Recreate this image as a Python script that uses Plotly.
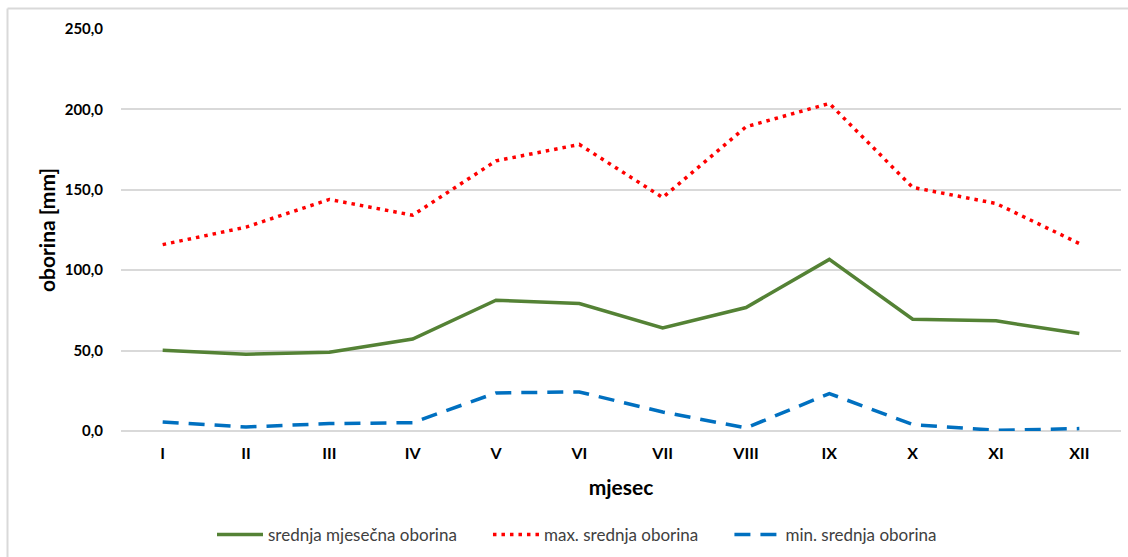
import plotly.graph_objects as go

# Monthly precipitation (mm)
months = ["I", "II", "III", "IV", "V", "VI", "VII", "VIII", "IX", "X", "XI", "XII"]
srednja = [50.2, 47.7, 49.0, 57.2, 81.3, 79.3, 64.1, 76.8, 106.7, 69.5, 68.5, 60.6]
maksimum = [115.9, 126.8, 144.0, 134.2, 168.0, 178.2, 145.2, 189.2, 203.7, 151.5, 141.5, 116.6]
minimum = [5.6, 2.5, 4.6, 5.2, 23.7, 24.3, 11.8, 1.9, 23.3, 4.0, 0.4, 1.5]

font_family = "Lato, 'Open Sans', sans-serif"
pad = "\u00a0" * 6  # spacing between legend entries

fig = go.Figure()
fig.add_trace(go.Scatter(
    x=months, y=srednja, mode="lines", name="srednja mjesečna oborina" + pad,
    line=dict(color="#548235", width=3.5),
))
fig.add_trace(go.Scatter(
    x=months, y=maksimum, mode="lines", name="max. srednja oborina" + pad,
    line=dict(color="#ff0000", width=3.5, dash="3.5px,5px"),
))
fig.add_trace(go.Scatter(
    x=months, y=minimum, mode="lines", name="min. srednja oborina",
    line=dict(color="#0070c0", width=3.5, dash="16px,10px"),
))

W, H = 1128, 557
ml, mr, mt, mb = 121, 7, 29, 126
pw = W - ml - mr
ph = H - mt - mb

fig.update_layout(
    width=W, height=H,
    margin=dict(l=ml, r=mr, t=mt, b=mb, autoexpand=False),
    paper_bgcolor="white", plot_bgcolor="white",
    separators=", ",
    font=dict(family=font_family, color="#000000", size=15),
    showlegend=True,
    legend=dict(
        orientation="h", x=(577 - ml) / pw, xanchor="center",
        y=(H - mb - 535) / ph, yanchor="middle",
        font=dict(size=17, color="#404040"), tracegroupgap=0, itemwidth=46,
    ),
    xaxis=dict(
        type="category", showgrid=False, zeroline=False, showline=False,
        tickfont=dict(size=16, color="#000000", family=font_family, weight="bold"),
        ticklabelstandoff=11,
        title=dict(text="<b>mjesec</b>", font=dict(size=21), standoff=19),
        range=[-0.5, 11.5],
    ),
    yaxis=dict(
        range=[0, 250], dtick=50, tickformat=".1f",
        showgrid=True, gridcolor="#d9d9d9", gridwidth=1.5,
        zeroline=True, zerolinecolor="#d9d9d9", zerolinewidth=1.5,
        showline=False,
        tickfont=dict(size=15, color="#000000", family=font_family, weight="bold"),
        ticklabelstandoff=17,
        title=dict(text="<b>oborina [mm]</b>", font=dict(size=21), standoff=3),
    ),
)

# Outer chart frame (left and top edges visible)
x0 = (7.5 - ml) / pw
y1 = (H - mb - 8.5) / ph
fig.add_shape(type="line", xref="paper", yref="paper",
              x0=x0, x1=x0, y0=-mb / ph - 0.02, y1=y1,
              line=dict(color="#d9d9d9", width=2))
fig.add_shape(type="line", xref="paper", yref="paper",
              x0=x0, x1=(W + 5 - ml) / pw, y0=y1, y1=y1,
              line=dict(color="#d9d9d9", width=2))

fig.write_html("out.html")
